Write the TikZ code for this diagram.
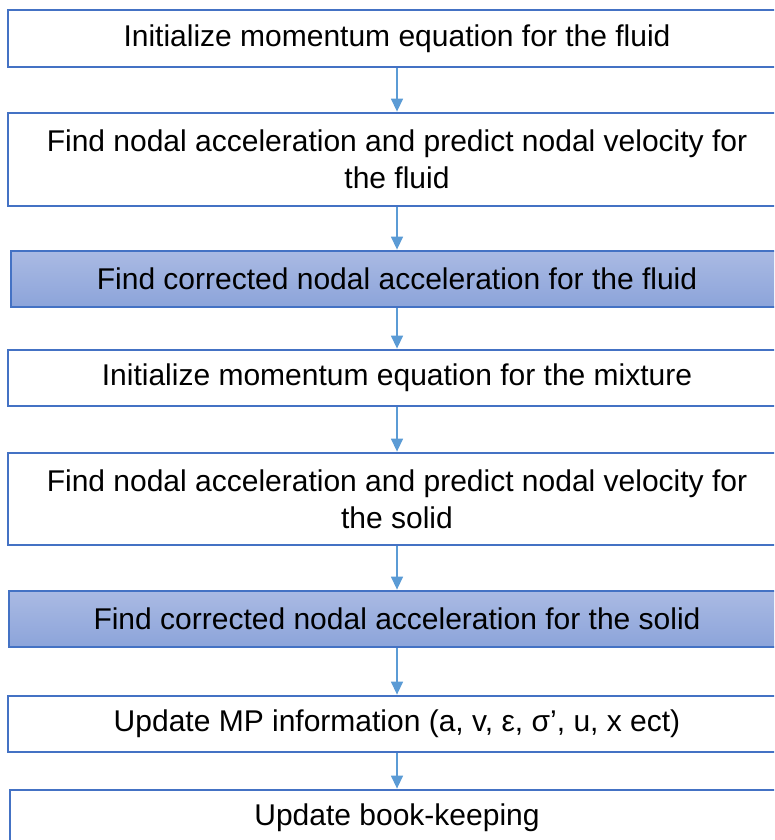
\documentclass[tikz,border=0pt]{standalone}
\usepackage{fontspec}
\setmainfont{Liberation Sans}
\usetikzlibrary{arrows.meta}
\definecolor{boxline}{HTML}{4472C4}
\definecolor{arrowcol}{HTML}{5B9BD5}
\definecolor{shadetop}{HTML}{AABAE3}
\definecolor{shadebot}{HTML}{8CA4DA}
\tikzset{
  stepbox/.style={draw=boxline, line width=1.8pt, fill=white, rectangle, inner sep=0pt,
    align=center, font=\fontsize{30}{37}\selectfont,
    execute at begin node={\vspace*{4pt}}},
  shadedbox/.style={stepbox, top color=shadetop, bottom color=shadebot},
  flow/.style={draw=arrowcol, line width=1.4pt, -{Triangle[length=13pt,width=12pt]}, shorten >=0.5pt}
}
\begin{document}
\begin{tikzpicture}[x=1pt,y=-1pt]
\useasboundingbox (0,0) rectangle (774,840);
\clip (0,0) rectangle (774,840);
\node[stepbox, minimum width=778pt, minimum height=57pt] (b1) at (397,38.5) {Initialize momentum equation for the fluid};
\node[stepbox, minimum width=778pt, minimum height=93pt] (b2) at (397,159.5) {Find nodal acceleration and predict nodal velocity for\\the fluid};
\node[shadedbox, minimum width=772pt, minimum height=56pt] (b3) at (397,279) {Find corrected nodal acceleration for the fluid};
\node[stepbox, minimum width=778pt, minimum height=56pt] (b4) at (397,378) {Initialize momentum equation for the mixture};
\node[stepbox, minimum width=778pt, minimum height=92pt] (b5) at (397,499) {Find nodal acceleration and predict nodal velocity for\\the solid};
\node[shadedbox, minimum width=776pt, minimum height=56pt] (b6) at (397,619) {Find corrected nodal acceleration for the solid};
\node[stepbox, minimum width=778pt, minimum height=56pt] (b7) at (397,724) {Update MP information (a, v, ε, σ’, u, x ect)};
\node[stepbox, minimum width=774pt, minimum height=56pt] (b8) at (397,818) {Update book-keeping};
\draw[flow] (b1.south) -- (b2.north);
\draw[flow] (b2.south) -- (b3.north);
\draw[flow] (b3.south) -- (b4.north);
\draw[flow] (b4.south) -- (b5.north);
\draw[flow] (b5.south) -- (b6.north);
\draw[flow] (b6.south) -- (b7.north);
\draw[flow] (b7.south) -- (b8.north);
\end{tikzpicture}
\end{document}
